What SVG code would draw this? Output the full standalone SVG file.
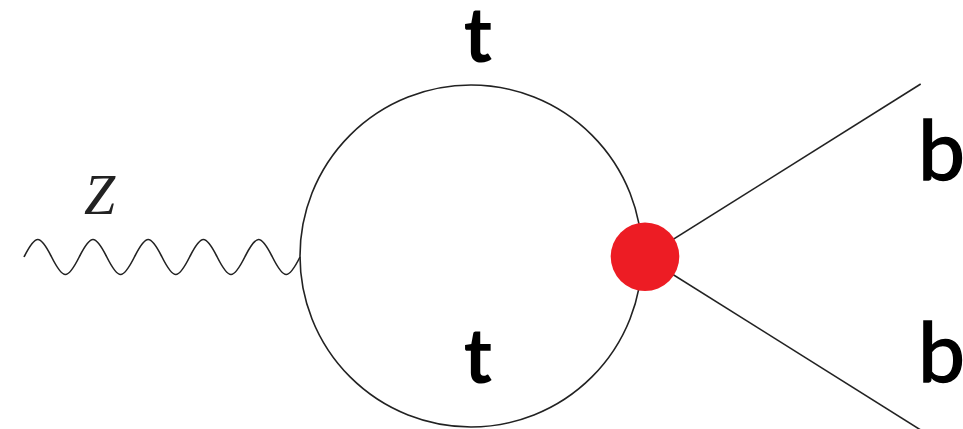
<svg xmlns="http://www.w3.org/2000/svg" width="963" height="429" viewBox="0 0 963 429">
<style>
.ln{fill:none;stroke:#222;stroke-width:1.6}
.lbl{font-family:Lato,"Open Sans","Liberation Sans",sans-serif;font-weight:700;fill:#000}
.lblb{font-family:Lato,"Open Sans","Liberation Sans",sans-serif;font-weight:400;fill:#000;stroke:#000;stroke-width:1.4}
.z{font-family:"Liberation Serif",serif;font-style:italic;fill:#222}
</style>
<rect width="963" height="429" fill="#fff"/>
<g id="connectors">
<path class="ln" d="M24,257 c11.71,-23.33 15.89,-23.33 27.6,0 s15.89,23.33 27.6,0 s15.89,-23.33 27.6,0 s15.89,23.33 27.6,0 s15.89,-23.33 27.6,0 s15.89,23.33 27.6,0 s15.89,-23.33 27.6,0 s15.89,23.33 27.6,0 s15.89,-23.33 27.6,0 s15.89,23.33 27.6,0"/>
<line class="ln" x1="645" y1="257" x2="920.7" y2="84"/>
<line class="ln" x1="645" y1="257" x2="920.7" y2="430"/>
</g>
<g id="loop"><circle class="ln" cx="471" cy="256" r="171"/></g>
<g id="vertex"><circle cx="645" cy="256.7" r="34.3" fill="#ED1C24"/></g>
<g id="label-z"><text class="z" x="84" y="214" font-size="56">Z</text></g>
<g id="label-t-top"><text class="lbl" x="478" y="62" font-size="76" text-anchor="middle">t</text></g>
<g id="label-t-bottom"><text class="lbl" x="478" y="383" font-size="76" text-anchor="middle">t</text></g>
<g id="label-b-top"><text class="lblb" x="918" y="180" font-size="84">b</text></g>
<g id="label-b-bottom"><text class="lblb" x="918" y="382" font-size="84">b</text></g>
</svg>
